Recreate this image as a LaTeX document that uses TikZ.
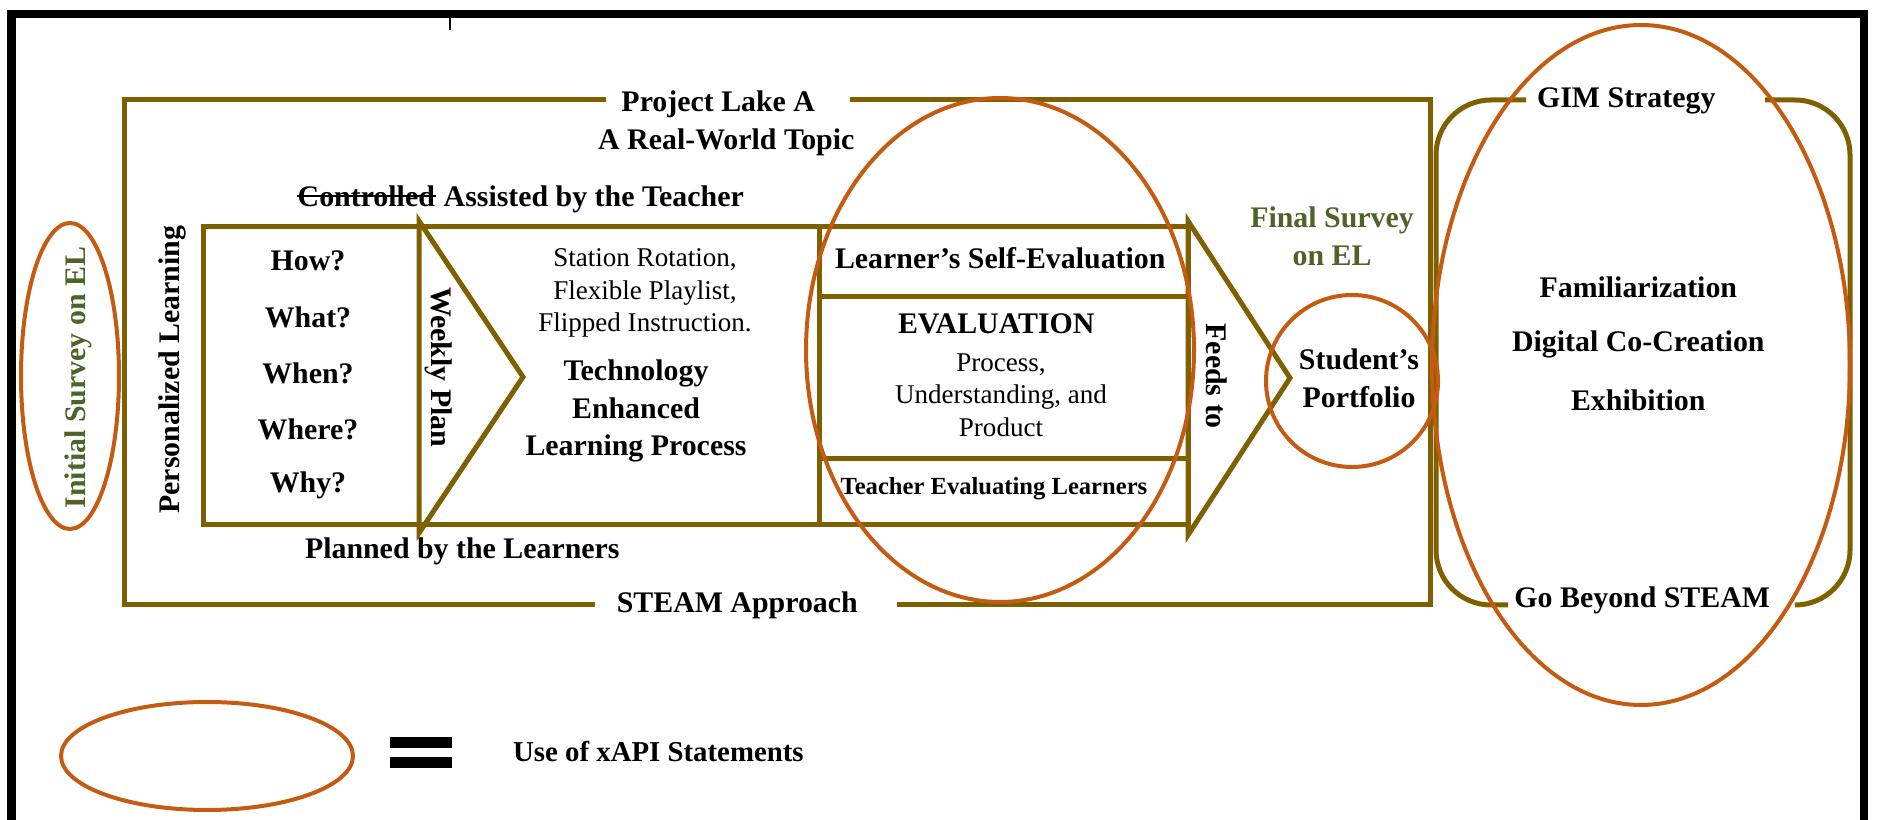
\documentclass[tikz,border=0pt]{standalone}
\usepackage{fontspec}
\setmainfont{Liberation Serif}
\usepackage{tikz}

\definecolor{lakeolive}{HTML}{7F6000}
\definecolor{xapiorange}{HTML}{C55A11}
\definecolor{surveygreen}{HTML}{4F6228}

\begin{document}
\begin{tikzpicture}[x=0.1cm, y=-0.1cm,
		lakeline/.style={draw=lakeolive, line width=0.5mm},
		xapi/.style={draw=xapiorange, line width=0.4mm},
		lbl/.style={inner sep=0pt, align=center, font=\fontsize{8.5}{10.7}\selectfont\bfseries},
		plain/.style={inner sep=0pt, align=center, font=\fontsize{7.7}{9.3}\selectfont},
		survey/.style={lbl, text=surveygreen}]
				\useasboundingbox (0, 0) rectangle (189.4, 82);
				\draw[line width=0.85mm] (1.15, 83) |- (186.4, 1.4) -- (186.4, 83);
				\draw[line width=0.15mm] (45, 1.8) -- (45, 3);
				\draw[lakeline] (60.6, 10) -| (12.4, 60.5) -- (59.5, 60.5);
				\draw[lakeline] (85, 10) -| (143, 60.5) -- (89.7, 60.5);
				\node[lbl] (project) at (72.2, 10.4) { Project Lake A };
				\node[lbl] (topic) at (73, 14.2) { A Real-World Topic };
				\node[lbl, anchor=west] (ctrl) at (29.7, 19.6) {Controlled};
				\draw[line width=0.12mm] (ctrl.west) -- (ctrl.east);
				\node[lbl, anchor=base west] (assist) at ([xshift=2.1pt]ctrl.base east) {Assisted by the Teacher};
				\node[lbl] (planned) at (46.6, 55.1) { Planned by the Learners };
				\node[lbl] (steam) at (74.1, 60.5) { STEAM Approach };
				\draw[lakeline] (20.3, 22.7) rectangle (118.8, 52.5);
				\draw[lakeline] (81.9, 22.7) rectangle (118.8, 29.7);
				\draw[lakeline] (81.9, 29.7) rectangle (118.8, 45.9);
				\draw[lakeline] (81.9, 45.9) rectangle (118.8, 52.5);
				\draw[lakeline] (41.9, 22.1) -- (52.3, 37.7) -- (41.9, 53.3) -- cycle;
				\draw[lakeline] (118.8, 22.1) -- (129, 37.8) -- (118.8, 53.5) -- cycle;
				\node[survey, rotate=90] (initial) at (7.8, 37.4) { Initial Survey on EL };
				\node[lbl, rotate=90] (personal) at (17.2, 36.6) { Personalized Learning };
				\foreach \q [count=\i] in {How?, What?, When?, Where?, Why?}
					\node[lbl] (q\i) at (30.8, 20.5+5.6*\i) { \q };
				\node[lbl, rotate=-90] (weekly) at (43.9, 37.1) { Weekly Plan };
				\node[plain] (models) at (64.5, 29.3) { Station Rotation,\\Flexible Playlist,\\Flipped Instruction. };
				\node[lbl] (tel) at (63.6, 41.1) { Technology\\Enhanced\\Learning Process };
				\node[lbl] (self) at (100.4, 25.8) { Learner's Self-Evaluation };
				\node[lbl] (evaluation) at (100, 32.4) { EVALUATION };
				\node[plain] (aspects) at (100.1, 39.5) { Process,\\Understanding, and\\Product };
				\node[lbl, font=\fontsize{7}{8.4}\selectfont\bfseries] (teacher) at (99.7, 48.9) { Teacher Evaluating Learners };
				\node[lbl, rotate=-90] (feeds) at (121.7, 38) { Feeds to };
				\node[survey] (final) at (133.2, 23.6) { Final Survey\\on EL };
				\node[lbl] (portfolio) at (135.9, 37.85) { Student's\\Portfolio };
				\draw[lakeline, rounded corners=5.5mm] (152.6, 10) -- (143.6, 10) -- (143.6, 60.5) -- (150.8, 60.5);
				\draw[lakeline, rounded corners=5.5mm] (176.5, 10) -- (185, 10) -- (185, 60.5) -- (179.7, 60.5);
				\node[lbl] (gim) at (163, 10.1) { GIM Strategy };
				\node[lbl] (fam) at (164.2, 28.7) { Familiarization };
				\node[lbl] (cocreation) at (164.2, 34.4) { Digital Co-Creation };
				\node[lbl] (exhibit) at (164.2, 40) { Exhibition };
				\node[lbl] (beyond) at (164.6, 60) { Go Beyond STEAM };
				\draw[xapi] (7, 37.6) ellipse [x radius=0.49cm, y radius=1.53cm];
				\draw[xapi] (100, 35) ellipse [x radius=1.94cm, y radius=2.52cm];
				\draw[xapi] (135.2, 38.1) circle [radius=0.86cm];
				\draw[xapi] (164.1, 36.5) ellipse [x radius=2.09cm, y radius=3.4cm];
				\draw[xapi] (20.7, 75.6) ellipse [x radius=1.46cm, y radius=0.54cm];
				\fill (39, 73.7) rectangle (45.2, 74.8);
				\fill (39, 75.7) rectangle (45.2, 76.8);
				\node[lbl, font=\fontsize{8.2}{9.8}\selectfont\bfseries] (legend) at (66.2, 75.1) { Use of xAPI Statements };
			\end{tikzpicture}
\end{document}
